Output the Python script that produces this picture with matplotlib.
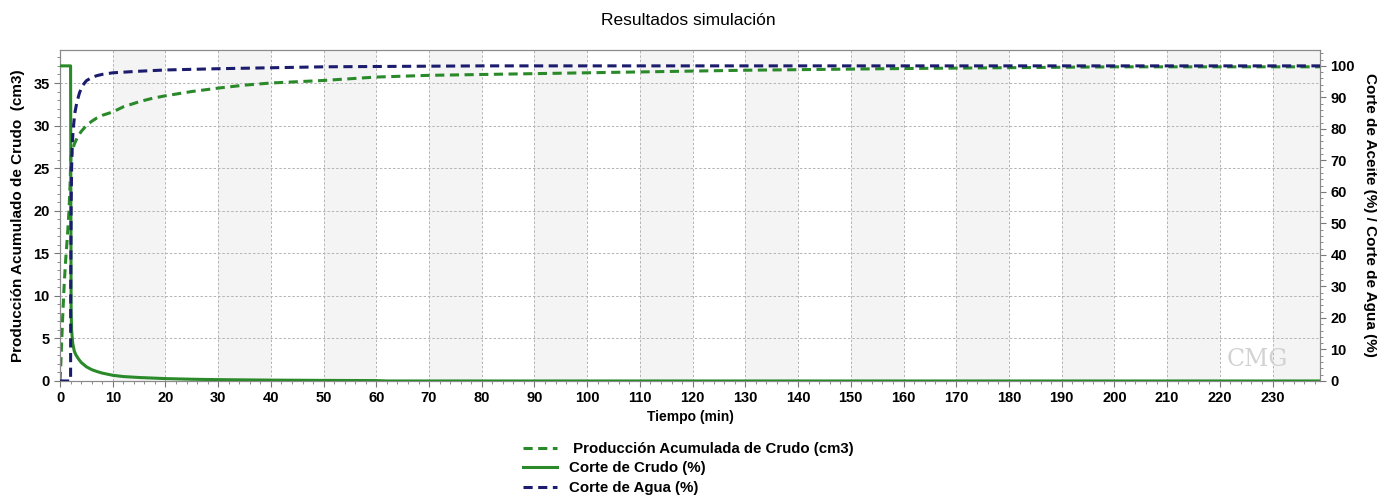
import numpy as np
import matplotlib.pyplot as plt
from matplotlib.ticker import MultipleLocator
from matplotlib.lines import Line2D

plt.rcParams["font.family"] = ["Liberation Sans", "DejaVu Sans"]

# ---- datos de la simulación ----
t_acum = [0, 0.15, 0.3, 0.5, 0.8, 1.1, 1.4, 1.7, 1.9, 2.05, 2.3, 2.7, 3.2, 4,
          5, 6, 7, 8, 10, 12, 15, 17.5, 20, 25, 30, 35, 40, 50, 60, 70, 80,
          100, 130, 160, 200, 239]
prod_acum = [0, 2, 4.5, 7.5, 11.5, 14.5, 17, 20, 23, 26.3, 27.0, 27.8, 28.5,
             29.3, 30.0, 30.5, 30.9, 31.2, 31.6, 32.2, 32.8, 33.2, 33.5, 34.0,
             34.4, 34.75, 35.0, 35.3, 35.7, 35.9, 36.0, 36.2, 36.5, 36.7, 36.9,
             36.9]

t_agua = [0, 1.95, 2.0, 2.03, 2.1, 2.2, 2.35, 2.5, 2.8, 3.2, 3.7, 4.3, 5, 6, 7,
          8, 10, 15, 20, 30, 40, 50, 60, 80, 239]
corte_agua = [0, 0, 0, 30, 55, 68, 76, 80, 85, 88.5, 91.5, 93.8, 95.3, 96.3,
              96.9, 97.3, 97.8, 98.3, 98.7, 99.1, 99.4, 99.7, 99.8, 100, 100]

t_crudo = [0, 1.9, 2.0, 2.1, 2.2, 2.4, 2.7, 3, 3.5, 4, 5, 6, 7, 8, 10, 12, 15,
           20, 25, 30, 40, 50, 60, 62, 239]
corte_crudo = [100, 100, 100, 22, 16, 12, 9.5, 8.3, 7.0, 5.9, 4.5, 3.6, 3.0,
               2.5, 1.8, 1.4, 1.1, 0.75, 0.55, 0.42, 0.27, 0.18, 0.12, 0.0,
               0.0]

verde = "#2a8a2a"
azul = "#1c1c6e"
guiones = (0, (3, 1.8))

fig = plt.figure(figsize=(13.77, 4.98), dpi=100)
ax = fig.add_axes([0.0436, 0.235, 0.915, 0.665])
ax2 = ax.twinx()

x_max = 239
# bandas sombreadas alternas
for x0 in range(10, x_max, 20):
    ax.axvspan(x0, min(x0 + 10, x_max), color="#f4f4f4", zorder=0, lw=0)

ax.set_xlim(0, x_max)
ax.set_ylim(0, 38.9)
ax2.set_ylim(0, 105.1)

ax.grid(True, color="#b3b3b3", linestyle=(0, (2.5, 2)), linewidth=0.7,
        zorder=1)

ax.plot(t_acum, prod_acum, color=verde, lw=2.2, ls=guiones, zorder=3)
ax2.plot(t_crudo, corte_crudo, color=verde, lw=2.2, zorder=3)
ax2.plot(t_agua, corte_agua, color=azul, lw=2.2, ls=guiones, zorder=4)

ax.xaxis.set_major_locator(MultipleLocator(10))
ax.xaxis.set_minor_locator(MultipleLocator(2))
ax.yaxis.set_major_locator(MultipleLocator(5))
ax.yaxis.set_minor_locator(MultipleLocator(1))
ax2.yaxis.set_major_locator(MultipleLocator(10))
ax2.yaxis.set_minor_locator(MultipleLocator(2))

for a in (ax, ax2):
    for s in a.spines.values():
        s.set_color("#8a8a8a")
    a.tick_params(which="both", color="#777777", direction="out")
    a.tick_params(which="major", length=4, labelsize=10.5)
    a.tick_params(which="minor", length=2)
    for lab in a.get_xticklabels() + a.get_yticklabels():
        lab.set_fontweight("bold")

ax.set_xlabel("Tiempo (min)", fontsize=10, fontweight="bold", labelpad=3)
ax.set_ylabel("Producción Acumulado de Crudo  (cm3)", fontsize=11,
              fontweight="bold", labelpad=6)
ax2.set_ylabel("Corte de Aceite (%) / Corte de Agua (%)", fontsize=11,
               fontweight="bold", rotation=-90, labelpad=16)
fig.text(0.5, 0.958, "Resultados simulación", ha="center", va="center",
         fontsize=12.5)

# marca de agua
ax.text(0.975, 0.065, "CMG", transform=ax.transAxes, ha="right", va="center",
        fontsize=17, color="#d2d2d2", family="DejaVu Serif", zorder=2)

handles = [
    Line2D([], [], color=verde, lw=2.2, ls=guiones),
    Line2D([], [], color=verde, lw=2.2),
    Line2D([], [], color=azul, lw=2.2, ls=guiones),
]
labels = [" Producción Acumulada de Crudo (cm3)", "Corte de Crudo (%)",
          "Corte de Agua (%)"]
fig.legend(handles, labels, loc="upper center", bbox_to_anchor=(0.5, 0.125),
           frameon=False, prop={"weight": "bold", "size": 10.8},
           handlelength=2.3, labelspacing=0.38, borderaxespad=0)

fig.savefig("out.png", dpi=100)
